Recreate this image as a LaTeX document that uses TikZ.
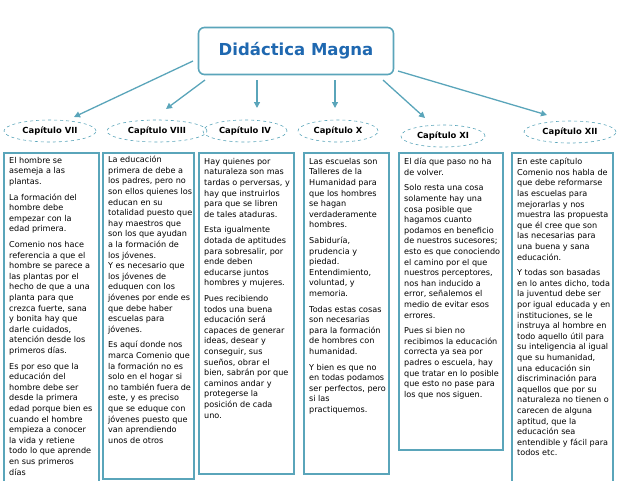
\documentclass[tikz,border=0pt]{standalone}
\usepackage{fontspec}
\setmainfont{DejaVu Sans}
\usetikzlibrary{shapes.geometric,arrows.meta}
\definecolor{teal1}{HTML}{5AA5BA}
\definecolor{titleblue}{HTML}{1F68B0}
\tikzset{
 chap/.style={ellipse,draw=teal1,dashed,line width=0.6pt,minimum height=22pt,inner sep=1pt,font=\fontsize{8.4}{10}\selectfont\bfseries},
 boxx/.style={draw=teal1,line width=1.6pt},
 txt/.style={anchor=north west,align=left,inner sep=0pt,font=\fontsize{8.1}{10.6}\selectfont},
 arr/.style={draw=teal1,line width=1.3pt,-{Triangle[length=6pt,width=6pt]}}
}
\begin{document}
\begin{tikzpicture}[x=1pt,y=-1pt]
\useasboundingbox (0,0) rectangle (621,480);
\node[draw=teal1,line width=1.6pt,rounded corners=6pt,minimum width=195pt,minimum height=47pt,font=\fontsize{16.5}{18}\selectfont\bfseries,text=titleblue] (t) at (296,51) {Didáctica Magna};
\node[chap,minimum width=92pt] (c7) at (50,131) {Capítulo VII};
\node[chap,minimum width=100pt] (c8) at (157,131) {Capítulo VIII};
\node[chap,minimum width=84pt] (c4) at (245,131) {Capítulo IV};
\node[chap,minimum width=80pt] (c10) at (338,131) {Capítulo X};
\node[chap,minimum width=84pt] (c11) at (443,136) {Capítulo XI};
\node[chap,minimum width=92pt] (c12) at (570,132) {Capítulo XII};
\coordinate (a7) at (193,61); \coordinate (e7) at (74,117);
\coordinate (a8) at (205,80); \coordinate (e8) at (166,109);
\coordinate (a4) at (257,80); \coordinate (e4) at (257,108);
\coordinate (a10) at (335,80); \coordinate (e10) at (335,108);
\coordinate (a11) at (383,80); \coordinate (e11) at (425,118);
\coordinate (a12) at (398,71); \coordinate (e12) at (547,115);
\foreach \n in {7,8,4,10,11,12}{\draw[arr] (a\n) -- (e\n);}
\node[boxx,minimum width=95pt,minimum height=340pt,anchor=north west] (b7) at (3,152) {};
\node[boxx,minimum width=91pt,minimum height=326pt,anchor=north west] (b8) at (102,152) {};
\node[boxx,minimum width=95pt,minimum height=321pt,anchor=north west] (b4) at (198,152) {};
\node[boxx,minimum width=85pt,minimum height=321pt,anchor=north west] (b10) at (303,152) {};
\node[boxx,minimum width=104pt,minimum height=297pt,anchor=north west] (b11) at (398,152) {};
\node[boxx,minimum width=101pt,minimum height=340pt,anchor=north west] (b12) at (511,152) {};
\node[txt] (x7) at ([shift={(6,5)}]b7.north west) {El hombre se\\asemeja a las\\plantas.\\[5pt]La formación del\\hombre debe\\empezar con la\\edad primera.\\[5pt]Comenio nos hace\\referencia a que el\\hombre se parece a\\las plantas por el\\hecho de que a una\\planta para que\\crezca fuerte, sana\\y bonita hay que\\darle cuidados,\\atención desde los\\primeros días.\\[5pt]Es por eso que la\\educación del\\hombre debe ser\\desde la primera\\edad porque bien es\\cuando el hombre\\empieza a conocer\\la vida y retiene\\todo lo que aprende\\en sus primeros\\días};
\node[txt] (x8) at ([shift={(6,4)}]b8.north west) {La educación\\primera de debe a\\los padres, pero no\\son ellos quienes los\\educan en su\\totalidad puesto que\\hay maestros que\\son los que ayudan\\a la formación de\\los jóvenes.\\Y es necesario que\\los jóvenes de\\eduquen con los\\jóvenes por ende es\\que debe haber\\escuelas para\\jóvenes.\\[5pt]Es aquí donde nos\\marca Comenio que\\la formación no es\\solo en el hogar si\\no también fuera de\\este, y es preciso\\que se eduque con\\jóvenes puesto que\\van aprendiendo\\unos de otros};
\node[txt] (x4) at ([shift={(6,6)}]b4.north west) {Hay quienes por\\naturaleza son mas\\tardas o perversas, y\\hay que instruirlos\\para que se libren\\de tales ataduras.\\[5pt]Esta igualmente\\dotada de aptitudes\\para sobresalir, por\\ende deben\\educarse juntos\\hombres y mujeres.\\[5pt]Pues recibiendo\\todos una buena\\educación será\\capaces de generar\\ideas, desear y\\conseguir, sus\\sueños, obrar el\\bien, sabrán por que\\caminos andar y\\protegerse la\\posición de cada\\uno.};
\node[txt] (x10) at ([shift={(6,6)}]b10.north west) {Las escuelas son\\Talleres de la\\Humanidad para\\que los hombres\\se hagan\\verdaderamente\\hombres.\\[5pt]Sabiduría,\\prudencia y\\piedad.\\Entendimiento,\\voluntad, y\\memoria.\\[5pt]Todas estas cosas\\son necesarias\\para la formación\\de hombres con\\humanidad.\\[5pt]Y bien es que no\\en todas podamos\\ser perfectos, pero\\si las\\practiquemos.};
\node[txt] (x11) at ([shift={(6,6)}]b11.north west) {El día que paso no ha\\de volver.\\[5pt]Solo resta una cosa\\solamente hay una\\cosa posible que\\hagamos cuanto\\podamos en beneficio\\de nuestros sucesores;\\esto es que conociendo\\el camino por el que\\nuestros perceptores,\\nos han inducido a\\error, señalemos el\\medio de evitar esos\\errores.\\[5pt]Pues si bien no\\recibimos la educación\\correcta ya sea por\\padres o escuela, hay\\que tratar en lo posible\\que esto no pase para\\los que nos siguen.};
\node[txt] (x12) at ([shift={(6,6)}]b12.north west) {En este capítulo\\Comenio nos habla de\\que debe reformarse\\las escuelas para\\mejorarlas y nos\\muestra las propuesta\\que él cree que son\\las necesarias para\\una buena y sana\\educación.\\[5pt]Y todas son basadas\\en lo antes dicho, toda\\la juventud debe ser\\por igual educada y en\\instituciones, se le\\instruya al hombre en\\todo aquello útil para\\su inteligencia al igual\\que su humanidad,\\una educación sin\\discriminación para\\aquellos que por su\\naturaleza no tienen o\\carecen de alguna\\aptitud, que la\\educación sea\\entendible y fácil para\\todos etc.};
\end{tikzpicture}
\end{document}
